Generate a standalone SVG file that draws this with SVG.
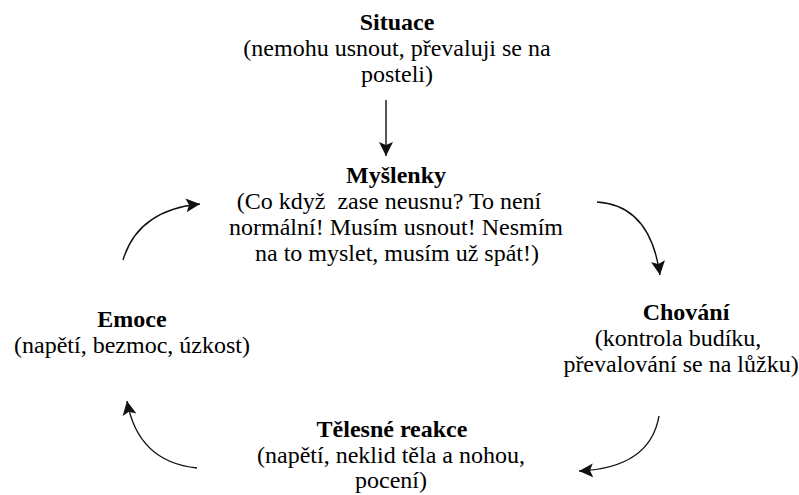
<svg xmlns="http://www.w3.org/2000/svg" width="799" height="495" viewBox="0 0 799 495">
<defs>
<marker id="ah" markerUnits="userSpaceOnUse" markerWidth="16" markerHeight="16" refX="14" refY="7" orient="auto">
<path d="M0,0 L14,7 L0,14 L3,7 z" fill="#111"/>
</marker>
</defs>
<rect width="799" height="495" fill="#fff"/>
<g id="situace">
<text font-family="Times New Roman" font-size="24" text-anchor="middle" font-weight="bold" x="397" y="30">Situace</text>
<text font-family="Times New Roman" font-size="24" text-anchor="middle" x="397" y="56">(nemohu usnout, převaluji se na</text>
<text font-family="Times New Roman" font-size="24" text-anchor="middle" x="397" y="82">posteli)</text>
</g>
<g id="myslenky">
<text font-family="Times New Roman" font-size="24" text-anchor="middle" font-weight="bold" x="396" y="183">Myšlenky</text>
<text font-family="Times New Roman" font-size="24" text-anchor="middle" x="389" y="209" xml:space="preserve">(Co když  zase neusnu? To není</text>
<text font-family="Times New Roman" font-size="24" text-anchor="middle" x="396" y="235">normální! Musím usnout! Nesmím</text>
<text font-family="Times New Roman" font-size="24" text-anchor="middle" x="397" y="261">na to myslet, musím už spát!)</text>
</g>
<g id="chovani">
<text font-family="Times New Roman" font-size="24" text-anchor="middle" font-weight="bold" x="686" y="320">Chování</text>
<text font-family="Times New Roman" font-size="24" text-anchor="middle" x="678" y="346">(kontrola budíku,</text>
<text font-family="Times New Roman" font-size="24" text-anchor="middle" x="681" y="372">převalování se na lůžku)</text>
</g>
<g id="telesne">
<text font-family="Times New Roman" font-size="24" text-anchor="middle" font-weight="bold" x="392" y="437">Tělesné reakce</text>
<text font-family="Times New Roman" font-size="24" text-anchor="middle" x="391" y="463">(napětí, neklid těla a nohou,</text>
<text font-family="Times New Roman" font-size="24" text-anchor="middle" x="391" y="488">pocení)</text>
</g>
<g id="emoce">
<text font-family="Times New Roman" font-size="24" text-anchor="middle" font-weight="bold" x="132" y="327">Emoce</text>
<text font-family="Times New Roman" font-size="24" text-anchor="middle" x="132" y="353">(napětí, bezmoc, úzkost)</text>
</g>
<g id="connectors" fill="none" stroke="#111" stroke-width="1.4">
<path d="M386,100 L386,156" marker-end="url(#ah)"/>
<path d="M123,260 Q138,210 200,204" marker-end="url(#ah)"/>
<path d="M597,202 Q650,205 660,275" marker-end="url(#ah)"/>
<path d="M659,416 Q650,468 579,471" marker-end="url(#ah)"/>
<path d="M197,468 Q138,462 127,401" marker-end="url(#ah)"/>
</g>
</svg>
